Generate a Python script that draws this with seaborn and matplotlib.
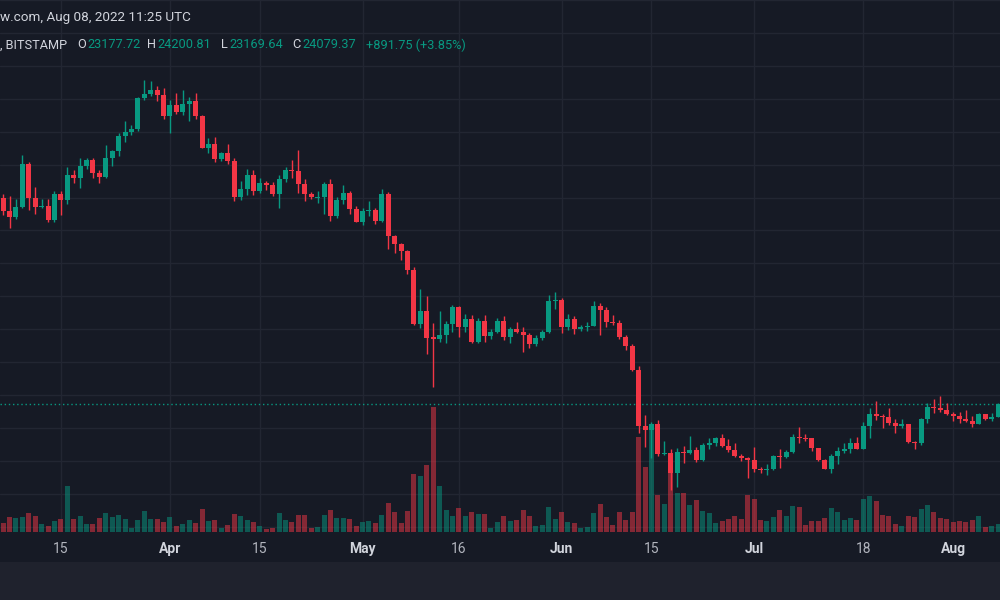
import numpy as np
import pandas as pd
import matplotlib
matplotlib.use("Agg")
import matplotlib.pyplot as plt
import seaborn as sns
from matplotlib.patches import Rectangle

# ---------------- data (BTC/USD daily, Bitstamp) ----------------
dates = pd.date_range("2022-03-06", "2022-08-08", freq="D")

opens = [
    # Mar 6-31
    39400, 38420, 37990, 38740, 41940, 39420, 38730, 38810, 37790, 39670, 39280, 41120, 40920,
    41770, 42230, 41260, 41000, 42370, 42900, 43990, 44330, 44530, 46830, 47150, 47450, 47070,
    # Apr
    45500, 46300, 45800, 46400, 46600, 45500, 43150, 43450, 42270, 42770, 42150, 39500, 40100,
    41150, 39950, 40550, 40400, 39700, 40800, 41500, 41400, 40450, 39700, 39450, 39480, 40450,
    38100, 39250, 39750, 38600,
    # May
    37650, 38450, 38520, 37730, 39700, 36550, 36000, 35500, 34050, 30050, 31000, 29050, 28950,
    29250, 30050, 31300, 29850, 30400, 28700, 30300, 29150, 29450, 30300, 29100, 29700, 29450,
    29200, 28600, 29000, 29450, 31750,
    # Jun
    31800, 29850, 30450, 29700, 29850, 29900, 31350, 31100, 30200, 30100, 29100, 28400, 26600,
    22450, 22150, 22600, 20400, 20450, 19000, 20550, 20450, 20700, 19950, 21100, 21250, 21550,
    21000, 20700, 20250, 20100,
    # Jul
    19950, 19300, 19250, 19300, 20250, 20150, 20550, 21650, 21600, 21550, 20850, 19950, 19300,
    20250, 20600, 20800, 21200, 20800, 22450, 23400, 23200, 23150, 22700, 22450, 22600, 21300,
    21250, 23000, 23850, 23800, 23650,
    # Aug 1-8
    23350, 23250, 23000, 22850, 22600, 23350, 22980, 23177.72,
]
highs = [
    39700, 39550, 39300, 42600, 42050, 40240, 39300, 39300, 39900, 39900, 41720, 41470, 42340,
    42400, 42360, 41520, 43340, 42950, 44200, 45100, 44800, 46900, 48190, 48100, 47700, 47600,
    46700, 47200, 47400, 46900, 47200, 45550, 43850, 43970, 42800, 43400, 42400, 40700, 41550,
    41500, 40900, 40700, 40600, 41100, 41700, 42200, 42950, 40800, 39850, 39900, 40600, 40800,
    39500, 40350, 39900, 38800,
    38650, 39150, 38650, 40050, 39850, 36650, 36100, 35550, 34250, 32650, 32100, 30100, 31000,
    30250, 31450, 31350, 30800, 30700, 30500, 30750, 29650, 30500, 30650, 29850, 30200, 29850,
    29350, 29200, 29600, 32200, 32400,
    31950, 30800, 30650, 30000, 30200, 31750, 31600, 31300, 30700, 30350, 29250, 28550, 26900,
    23300, 22750, 22950, 21350, 20750, 20850, 21000, 21700, 20900, 21200, 21550, 21650, 21900,
    21500, 21200, 20400, 20200,
    20900, 19450, 19650, 20300, 20750, 20700, 21900, 22400, 21900, 21600, 20850, 20050, 20400,
    20900, 21200, 21600, 21650, 22750, 23800, 24300, 23400, 23800, 23000, 23000, 22650, 21350,
    23100, 24200, 24450, 24700, 24200,
    23500, 23500, 23700, 23250, 23450, 23380, 23450, 24200.81,
]
lows = [
    38150, 37170, 37850, 38650, 38540, 38230, 38660, 37600, 37600, 38120, 38950, 40500, 40140,
    41530, 40920, 40520, 40900, 41780, 42550, 43600, 44120, 44400, 46700, 46950, 46600, 45250,
    44200, 45650, 45600, 45100, 45300, 43100, 42720, 42100, 42150, 41900, 39200, 39250, 39600,
    39600, 39800, 39990, 39550, 38650, 40600, 40900, 39800, 39200, 39300, 39000, 38200, 37700,
    37900, 38950, 38200, 37600,
    37400, 38050, 37500, 37650, 35600, 35300, 34800, 33750, 30000, 29750, 27800, 25400, 28700,
    28650, 29450, 29100, 29450, 28650, 28650, 28700, 28950, 29400, 28850, 28650, 29350, 28000,
    28250, 28450, 28850, 29350, 31200,
    29350, 29600, 29300, 29500, 29500, 29900, 29250, 29850, 29950, 28900, 28100, 26550, 21950,
    20900, 20100, 20250, 20300, 17750, 17950, 19700, 20400, 19800, 19900, 20750, 21000, 20950,
    20550, 20200, 19850, 18650,
    19050, 19000, 18800, 19200, 19350, 20100, 20500, 21250, 21350, 20650, 19900, 19250, 18950,
    19650, 20450, 20500, 20750, 20750, 21600, 22900, 22350, 22550, 21950, 22350, 21250, 20750,
    21050, 22700, 23450, 23500, 23300,
    22850, 22700, 22750, 22400, 22600, 22950, 22850, 23169.64,
]
closes = [
    38420, 37990, 38740, 41940, 39420, 38730, 38810, 37790, 39670, 39280, 41120, 40920, 41770,
    42230, 41260, 41000, 42370, 42900, 43990, 44330, 44530, 46830, 47150, 47450, 47070, 45500,
    46300, 45800, 46400, 46600, 45500, 43150, 43450, 42270, 42770, 42150, 39500, 40100, 41150,
    39950, 40550, 40400, 39700, 40800, 41500, 41400, 40450, 39700, 39450, 39480, 40450, 38100,
    39250, 39750, 38600, 37650,
    38450, 38520, 37730, 39700, 36550, 36000, 35500, 34050, 30050, 31000, 29000, 28950, 29250,
    30050, 31300, 29850, 30400, 28700, 30300, 29150, 29450, 30300, 29100, 29700, 29450, 29200,
    28600, 29000, 29450, 31750, 31800,
    29850, 30450, 29700, 29850, 29900, 31350, 31100, 30200, 30100, 29100, 28400, 26600, 22450,
    22150, 22600, 20400, 20450, 19000, 20550, 20450, 20700, 19950, 21100, 21250, 21550, 21000,
    20700, 20250, 20100, 19950,
    19300, 19250, 19300, 20250, 20150, 20550, 21650, 21600, 21550, 20850, 19950, 19300, 20250,
    20600, 20800, 21200, 20800, 22450, 23400, 23200, 23150, 22700, 22450, 22600, 21300, 21250,
    23000, 23850, 23800, 23650, 23350,
    23250, 23000, 22850, 22600, 23350, 22980, 23180, 24079.37,
]
# volume (relative units)
volumes = [
    9.3, 15, 14, 15, 19, 15.7, 7.7, 5.7, 10.7, 12.7, 45.7, 12.7, 16.3, 7.7, 8.3, 13.7, 18.7,
    14.7, 17, 13, 3.7, 12, 20.7, 13, 13, 10.3,
    15.3, 5.7, 8.3, 11.7, 9, 23, 11, 11.7, 4, 7, 17.7, 16.3, 12, 9.7, 6, 3, 4, 18.7, 11.7, 10.3,
    17, 16.7, 3.7, 5.3, 17, 22, 13.7, 14, 12.7, 6,
    9.7, 11, 9, 17.3, 28.7, 20, 9.3, 20.7, 58, 56, 67, 125, 46, 22, 15.7, 23.7, 16, 19.7, 18.3,
    18, 4, 10.3, 16.3, 11.3, 12, 21.7, 16.3, 5.7, 7, 25, 12.7,
    20, 9.7, 9, 4, 4.7, 19, 28.3, 14.7, 7.3, 19.7, 12, 20, 95, 65, 107, 37, 28, 60, 39, 39, 27,
    31.7, 20.7, 19, 9.3, 11, 12.7, 15.7, 12.7, 37,
    33.3, 11.7, 11, 15, 22, 16.3, 26, 25.3, 7, 11, 11, 13.7, 24.3, 19.7, 12, 13.7, 11.7, 32.7,
    35.7, 31, 17.3, 15.7, 8, 5.7, 16.3, 15, 22.7, 26.7, 19.7, 13.7, 13,
    10, 11, 10, 12, 15.7, 5.3, 5.7, 8,
]

tick_dates = ["2022-03-15", "2022-04-01", "2022-04-15", "2022-05-01", "2022-05-16",
              "2022-06-01", "2022-06-15", "2022-07-01", "2022-07-18", "2022-08-01"]
tick_labels = ["15", "Apr", "15", "May", "16", "Jun", "15", "Jul", "18", "Aug"]
month_labels = {"Apr", "May", "Jun", "Jul", "Aug"}
grid_prices = np.arange(15000, 55001, 2500)

header_line1 = "w.com, Aug 08, 2022 11:25 UTC"
header_parts = [(", BITSTAMP", "label", 0), ("O", "label", 77), ("23177.72", "value", 87),
                ("H", "label", 147), ("24200.81", "value", 157), ("L", "label", 221),
                ("23169.64", "value", 229), ("C", "label", 292), ("24079.37", "value", 302),
                ("+891.75 (+3.85%)", "value", 366)]

# ---------------- style ----------------
BG = "#161a25"
BAND = "#1f222d"
GRID = "#222632"
UP = "#089981"
DOWN = "#f23645"
TEXT = "#d1d4dc"
TICK = "#b2b5be"

sns.set_theme(style="dark")
plt.rcParams["font.family"] = ["Roboto", "DejaVu Sans"]

W, H = 1000, 600
fig = plt.figure(figsize=(10, 6), dpi=100, facecolor=BG)
fig.patches.append(Rectangle((0, 0), 1, 38 / H, transform=fig.transFigure,
                             facecolor=BAND, edgecolor="none", zorder=0))

rect = [0, 68 / H, 1, 532 / H]
ax_grid = fig.add_axes(rect, zorder=0)
ax_vol = fig.add_axes(rect, zorder=1)
ax_price = fig.add_axes(rect, zorder=2)

n = len(dates)
idx = np.arange(n)
o, hi, lo, c = (np.array(a, dtype=float) for a in (opens, highs, lows, closes))
up = c >= o
colors = np.where(up, UP, DOWN)

xlim = (-0.48, 155.3)
ylim = (14604, 54110)

# grid / axis layer
ax_grid.set_facecolor("none")
ax_grid.set_xlim(*xlim)
ax_grid.set_ylim(*ylim)
tick_pos = [(pd.Timestamp(d) - dates[0]).days for d in tick_dates]
ax_grid.set_xticks(tick_pos)
ax_grid.set_xticklabels(tick_labels)
ax_grid.set_yticks(grid_prices)
ax_grid.tick_params(axis="y", left=False, labelleft=False, length=0)
ax_grid.tick_params(axis="x", length=0, pad=7, labelsize=10, colors=TICK)
for lab in ax_grid.get_xticklabels():
    if lab.get_text() in month_labels:
        lab.set_fontweight("bold")
        lab.set_color(TEXT)
ax_grid.grid(True, color=GRID, linewidth=1)
for s in ax_grid.spines.values():
    s.set_visible(False)

# volume layer (seaborn)
vol_df = pd.DataFrame({"day": idx, "volume": volumes,
                       "dir": np.where(up, "up", "down")})
sns.barplot(data=vol_df, x="day", y="volume", hue="dir", hue_order=["up", "down"],
            palette={"up": UP, "down": DOWN}, native_scale=True, dodge=False,
            width=0.78, saturation=1, alpha=0.5, errorbar=None, legend=False,
            linewidth=0, ax=ax_vol)
ax_vol.set_facecolor("none")
ax_vol.set_xlim(*xlim)
ax_vol.set_ylim(0, 532)
ax_vol.set_axis_off()

# price layer
ax_price.set_facecolor("none")
ax_price.vlines(idx, lo, hi, colors=colors, linewidth=1, zorder=2)
body_h = np.maximum(np.abs(c - o), 70)
body_b = np.where(np.abs(c - o) < 70, (o + c) / 2 - 35, np.minimum(o, c))
ax_price.bar(idx, body_h, bottom=body_b, width=0.78, color=colors, linewidth=0, zorder=3)
ax_price.axhline(c[-1], color=UP, linewidth=1, linestyle=(0, (1, 2)), zorder=1)
ax_price.set_xlim(*xlim)
ax_price.set_ylim(*ylim)
ax_price.set_axis_off()

# header text
fig.text(0 / W, 1 - 17 / H, header_line1, color=TEXT, fontsize=9.7, va="center", ha="left")
for txt, kind, xpx in header_parts:
    fig.text(xpx / W, 1 - 45 / H, txt, color=TEXT if kind == "label" else UP,
             fontsize=9.2, va="center", ha="left")

fig.savefig("out.png", dpi=100, facecolor=BG)
